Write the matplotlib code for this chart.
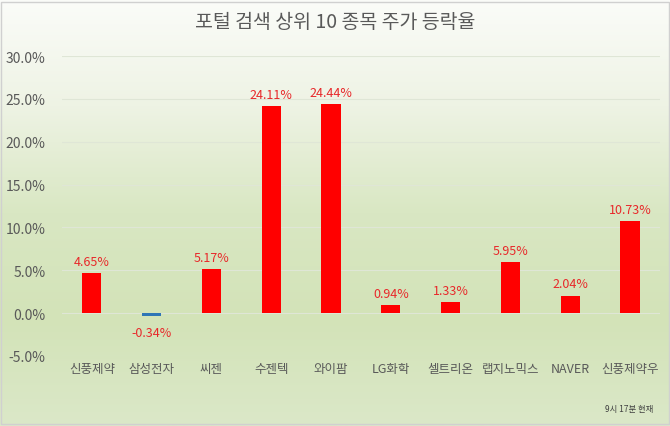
import numpy as np
import matplotlib
matplotlib.use('Agg')
import matplotlib.pyplot as plt
from matplotlib.colors import LinearSegmentedColormap

plt.rcParams['font.family'] = ['Noto Sans CJK KR', 'DejaVu Sans']

# data
stocks = ['신풍제약', '삼성전자', '씨젠', '수젠텍', '와이팜', 'LG화학', '셀트리온', '랩지노믹스', 'NAVER', '신풍제약우']
changes = [4.65, -0.34, 5.17, 24.11, 24.44, 0.94, 1.33, 5.95, 2.04, 10.73]
yticks = [-5, 0, 5, 10, 15, 20, 25, 30]

fig = plt.figure(figsize=(6.70, 4.27), dpi=100)

# background gradient, white on top to pale green at the bottom
bg = fig.add_axes([0, 0, 1, 1], zorder=-1)
grad = LinearSegmentedColormap.from_list('bg', ['#fbfcf9', '#eef3e4', '#d9e7c3', '#d3e3b8', '#dbe8c8'])
bg.imshow(np.linspace(0, 1, 256).reshape(-1, 1), aspect='auto', cmap=grad,
          extent=[0, 1, 0, 1], origin='upper')
bg.set_xlim(0, 1)
bg.set_ylim(0, 1)
bg.axis('off')
# thin frame round the chart
bg.add_patch(plt.Rectangle((0.002, 0.004), 0.996, 0.99, fill=False, ec='#d0d0d0', lw=1))

ax = fig.add_axes([0.0925, 0.164, 0.8925, 0.7025])
ax.patch.set_alpha(0)

x = np.arange(len(stocks))
colors = ['#ff0000' if v >= 0 else '#2e75b6' for v in changes]
ax.bar(x, changes, width=0.32, color=colors, zorder=3)

for xi, v in zip(x, changes):
    if v >= 0:
        ax.text(xi, v + 0.6, f'{v:.2f}%', ha='center', va='bottom', color='#e8282a', fontsize=9)
    else:
        ax.text(xi, v - 1.2, f'{v:.2f}%', ha='center', va='top', color='#e8282a', fontsize=9)

ax.set_xlim(-0.5, 9.5)
ax.set_ylim(-5, 30)
ax.set_yticks(yticks)
ax.set_yticklabels([f'{t:.1f}%' for t in yticks], color='#595959', fontsize=10)
ax.grid(axis='y', color='#dfe6d6', lw=0.8, zorder=0)
for s in ax.spines.values():
    s.set_visible(False)
ax.tick_params(length=0, pad=12)
ax.tick_params(axis='x', pad=4)
ax.set_xticks(x)
ax.set_xticklabels(stocks, color='#595959', fontsize=9)

fig.text(0.5, 0.948, '포털 검색 상위 10 종목 주가 등락율', ha='center', va='center', fontsize=14, color='#595959')
fig.text(0.975, 0.04, '9시 17분 현재', ha='right', va='center', fontsize=6, color='#404040')

fig.savefig('out.png', dpi=100)
